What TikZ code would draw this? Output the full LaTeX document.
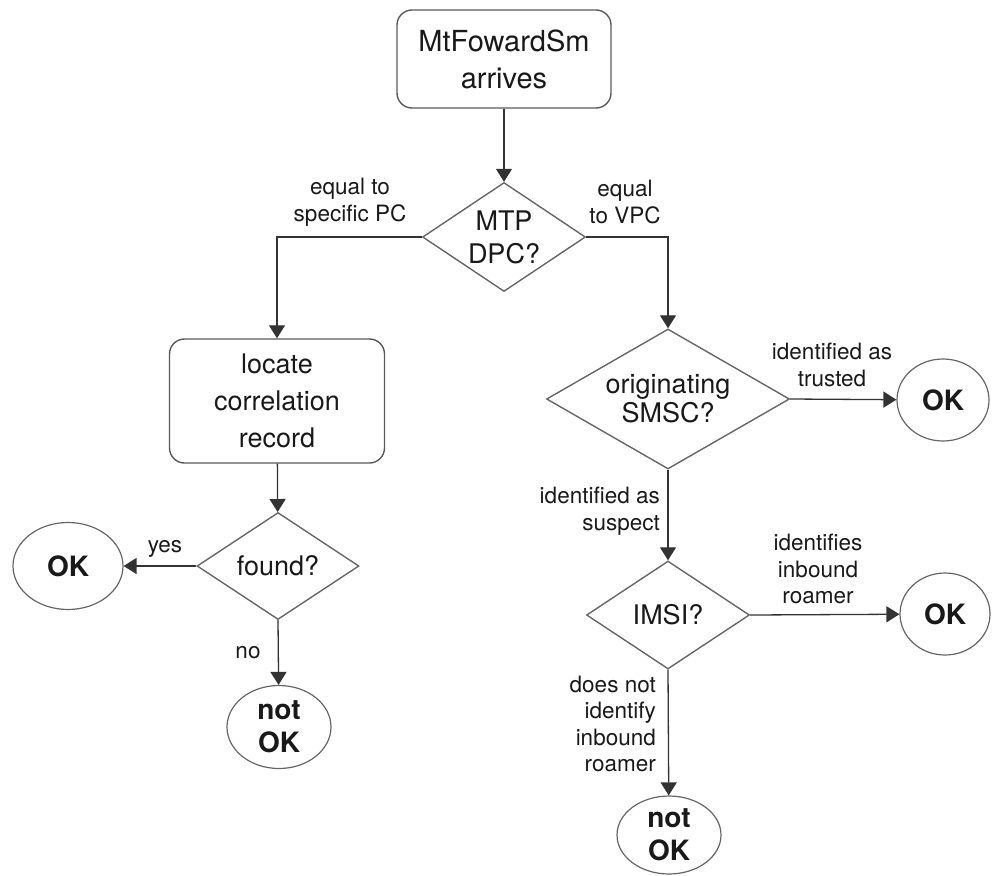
\documentclass[tikz,border=0pt]{standalone}
\usepackage{fontspec}
\setmainfont{TeX Gyre Heros}
\usetikzlibrary{shapes.geometric,arrows.meta}
\begin{document}
\begin{tikzpicture}[x=1pt,y=-1pt,
  every node/.style={text=black!90},
  box/.style={draw=black!65, line width=1.4pt, rounded corners=15pt, align=center, inner sep=0pt},
  decision/.style={draw=black!60, line width=1.4pt, diamond, align=center, inner sep=0pt},
  terminal/.style={draw=black!60, line width=1.2pt, ellipse, align=center, inner sep=0pt,
    font=\bfseries\fontsize{28}{33}\selectfont},
  bodytext/.style={font=\fontsize{27}{33}\selectfont},
  lbl/.style={font=\fontsize{22.5}{26.5}\selectfont, inner sep=0pt},
  flow/.style={draw=black!80, line width=1.3pt, -{Triangle[length=13pt,width=16pt]}},
]
\useasboundingbox (0,0) rectangle (992,875);

% process boxes
\node[box, minimum width=214, minimum height=98, font=\fontsize{29}{37}\selectfont]
  (arrive) at (504,59) {MtFowardSm\\arrives};
\node[box, minimum width=215, minimum height=124, font=\fontsize{27}{37}\selectfont]
  (locate) at (277,401) {locate\\correlation\\record};

% decisions
\node[decision, bodytext, minimum width=163, minimum height=109, aspect=1.5]
  (dpc) at (504,237) {MTP\\DPC?};
\node[decision, bodytext, minimum width=162, minimum height=107, aspect=1.5]
  (found) at (278,566) {found?};
\node[decision, font=\fontsize{27}{29}\selectfont, minimum width=243, minimum height=140, aspect=1.74]
  (smsc) at (668,399) {originating\\SMSC?};
\node[decision, bodytext, minimum width=163, minimum height=108, aspect=1.5]
  (imsi) at (668,615) {IMSI?};

% terminals
\node[terminal, minimum width=110, minimum height=87] (okA) at (68,566) {OK};
\node[terminal, minimum width=104, minimum height=83] (nokA) at (279,727) {not\\OK};
\node[terminal, minimum width=92, minimum height=82] (okB) at (943,400) {OK};
\node[terminal, minimum width=90, minimum height=82] (okC) at (945,614) {OK};
\node[terminal, minimum width=104, minimum height=78] (nokB) at (669,835) {not\\OK};

% connectors
\draw[flow] (arrive) -- (dpc);
\draw[flow] (dpc.west) -| (locate.north);
\draw[flow] (dpc.east) -| (smsc.north);
\draw[flow] (locate) -- (found);
\draw[flow] (found.west) -- (okA);
\draw[flow] (found.south) -- (nokA);
\draw[flow] (smsc.east) -- (okB);
\draw[flow] (smsc.south) -- (imsi.north);
\draw[flow] (imsi.east) -- (okC);
\draw[flow] (imsi.south) -- (nokB);

% branch labels
\node[lbl, align=center] (l1) at (350,202) {equal to\\specific PC};
\node[lbl, align=center] (l2) at (625,202) {equal\\to VPC};
\node[lbl] (l3) at (165,549) {yes};
\node[lbl] (l4) at (248,653) {no};
\node[lbl, align=center] (l5) at (832,365) {identified as\\trusted};
\node[lbl, align=right, anchor=east] (l6) at (660,511) {identified as\\suspect};
\node[lbl, align=center] (l7) at (818,569) {identifies\\inbound\\roamer};
\node[lbl, align=right, anchor=east] (l8) at (656,724) {does not\\identify\\inbound\\roamer};
\end{tikzpicture}
\end{document}
